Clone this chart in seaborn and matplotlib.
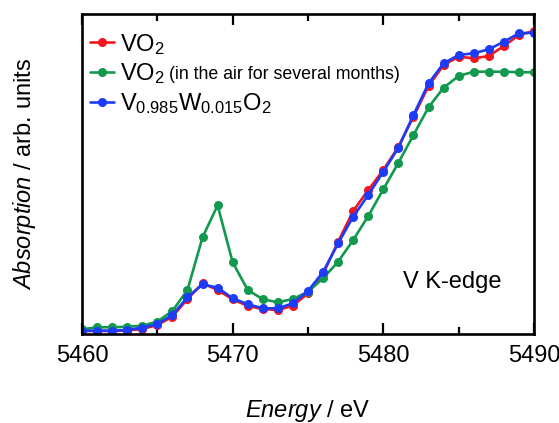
import numpy as np
import pandas as pd
import seaborn as sns
import matplotlib
matplotlib.use("Agg")
import matplotlib.pyplot as plt
from matplotlib.ticker import MultipleLocator

energy = list(range(5460, 5491))

vo2 = [0.03, 0.03, 0.03, 0.035, 0.05, 0.09, 0.173, 0.35, 0.507, 0.44, 0.347,
       0.28, 0.25, 0.24, 0.283, 0.407, 0.60, 0.923, 1.23, 1.44, 1.64, 1.873,
       2.173, 2.48, 2.69, 2.773, 2.757, 2.78, 2.88, 2.99, 3.03]
vo2_air = [0.047, 0.067, 0.067, 0.073, 0.083, 0.123, 0.23, 0.44, 0.967, 1.287,
           0.717, 0.44, 0.347, 0.317, 0.35, 0.423, 0.557, 0.723, 0.94, 1.18,
           1.447, 1.713, 1.99, 2.267, 2.463, 2.58, 2.623, 2.623, 2.623, 2.617, 2.617]
vwo2 = [0.033, 0.033, 0.033, 0.04, 0.063, 0.10, 0.19, 0.367, 0.497, 0.463, 0.357,
        0.297, 0.257, 0.257, 0.307, 0.43, 0.62, 0.907, 1.173, 1.39, 1.623, 1.863,
        2.19, 2.507, 2.707, 2.79, 2.807, 2.847, 2.923, 3.007, 3.013]

labels = ["VO$_2$", "VO$_2$", "V$_{0.985}$W$_{0.015}$O$_2$"]
air_note = "(in the air for several months)"
colors = ["#f2161e", "#12994e", "#1c3cfa"]
series = [vo2, vo2_air, vwo2]

sns.set_theme(style="white")
plt.rcParams["font.family"] = ["Liberation Sans", "DejaVu Sans"]
plt.rcParams["mathtext.fontset"] = "custom"
plt.rcParams["mathtext.rm"] = "Liberation Sans"
plt.rcParams["mathtext.it"] = "Liberation Sans:italic"
plt.rcParams["mathtext.bf"] = "Liberation Sans:bold"
plt.rcParams["text.color"] = "black"
plt.rcParams["axes.labelcolor"] = "black"
plt.rcParams["xtick.color"] = "black"
plt.rcParams["ytick.color"] = "black"

fig = plt.figure(figsize=(5.59, 4.23), dpi=100)
ax = fig.add_axes([82/559, 1-334/423, 452/559, 320/423])

for vals, lab, col in zip(series, labels, colors):
    df = pd.DataFrame({"Energy": energy, "Abs": vals})
    sns.lineplot(data=df, x="Energy", y="Abs", ax=ax, color=col, label=lab,
                 marker="o", markersize=6.5, markeredgewidth=0, linewidth=1.9)

ax.set_xlim(5460, 5490)
ax.set_ylim(0, 3.2)
ax.xaxis.set_major_locator(MultipleLocator(10))
ax.xaxis.set_minor_locator(MultipleLocator(5))
ax.set_yticks([])
ax.tick_params(axis="x", which="both", direction="in", top=True, bottom=True,
               labelsize=17, pad=8, color="black", width=1.6)
ax.tick_params(axis="x", which="major", length=8)
ax.tick_params(axis="x", which="minor", length=5)
for s in ax.spines.values():
    s.set_linewidth(1.9)
    s.set_color("black")

ax.set_xlabel(r"$\mathit{Energy}$ / eV", fontsize=17)
ax.set_ylabel(r"$\mathit{Absorption}$ / arb. units", fontsize=17)
ax.xaxis.set_label_coords(0.5, -0.2)
ax.xaxis.label.set_va("top")
ax.yaxis.set_label_coords(-0.098, 0.5)

ax.text(0.71, 0.163, "V K-edge", transform=ax.transAxes, fontsize=17,
        ha="left", va="center")

leg = ax.legend(loc="upper left", bbox_to_anchor=(-0.021, 1.0), frameon=False,
                fontsize=17, handlelength=1.0, handletextpad=0.25,
                borderaxespad=0.45, labelspacing=0.2, borderpad=0.3)
fig.canvas.draw()
ax.annotate(air_note, xy=(1, 0), xycoords=leg.get_texts()[1],
            xytext=(3, 2.5), textcoords="offset points", fontsize=12.8,
            ha="left", va="bottom")

fig.savefig("out.png", dpi=100)
